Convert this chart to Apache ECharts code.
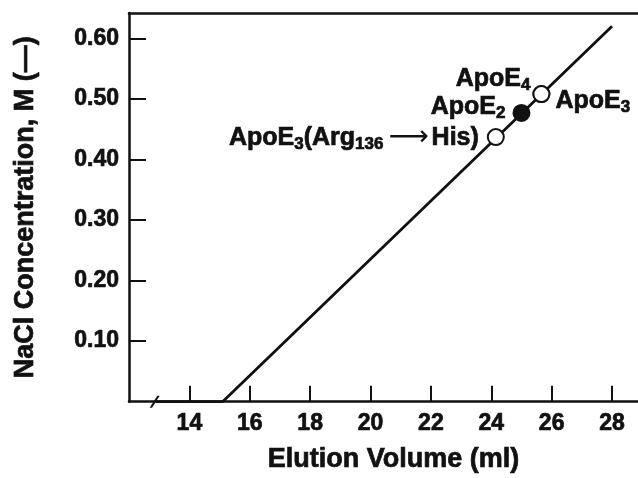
<!DOCTYPE html>
<html>
<head>
<meta charset="utf-8">
<script src="https://cdn.jsdelivr.net/npm/echarts@6/dist/echarts.min.js"></script>
<style>
  html, body { margin: 0; padding: 0; background: #fff; }
  #chart { width: 638px; height: 478px; }
</style>
</head>
<body>
<div id="chart"></div>
<script>
// gradient line (elution volume vs NaCl)
const gradientX = [12.9, 15.1, 28.0];
const gradientY = [0, 0, 0.62];

// sample peaks
const sampleLabels = ['{n|ApoE}{s|3}{n|(Arg}{s|136}{a|⟶}{n|His)}', '{n|ApoE}{s|2}', '{n|ApoE}{s|4}', '{n|ApoE}{s|3}'];
const sampleX = [24.15, 25.0, 25.66, 25.66];
const sampleY = [0.437, 0.477, 0.508, 0.508];
const sampleFilled = [false, true, false, false];

// axis break mark
const breakX = [12.85];

const xTicks = [14, 16, 18, 20, 22, 24, 26, 28];
const yTicks = [0.1, 0.2, 0.3, 0.4, 0.5, 0.6];

const FONT = '"Liberation Sans", Arial, sans-serif';
const INK = '#111';
// scanned print looks heavier than a plain bold face
const heavy = { textBorderColor: INK, textBorderWidth: 0.7 };

const labelPlace = [
  { position: 'left', distance: 8, offset: [0, 1] },
  { position: 'left', distance: 7, offset: [0, -6] },
  { position: 'left', distance: 4, offset: [2, -15] },
  { position: 'right', distance: 5, offset: [0, 7] }
];

const rich = {
  n: Object.assign({ fontFamily: FONT, fontWeight: 'bold', fontSize: 25, color: INK }, heavy),
  s: Object.assign({ fontFamily: FONT, fontWeight: 'bold', fontSize: 17, color: INK, padding: [13, 0, 0, 0] }, heavy),
  a: { fontFamily: '"DejaVu Sans"', fontSize: 28, color: INK, padding: [0, 3, 0, 5] }
};

const chart = echarts.init(document.getElementById('chart'));

chart.setOption({
  animation: false,
  grid: { left: 129, right: 0, top: 13, bottom: 76, containLabel: false },
  xAxis: [
    {
      type: 'value',
      min: 12,
      max: 28.86,
      interval: 2,
      name: 'Elution Volume (ml)',
      nameLocation: 'middle',
      nameGap: 44,
      nameTextStyle: Object.assign({ fontFamily: FONT, fontWeight: 'bold', fontSize: 27, color: INK, padding: [0, 0, 0, 20] }, heavy),
      axisLine: { lineStyle: { color: INK, width: 2.5 } },
      axisTick: { inside: true, length: 16, customValues: xTicks, lineStyle: { color: INK, width: 2 } },
      axisLabel: Object.assign({
        margin: 11,
        customValues: xTicks,
        fontFamily: FONT, fontWeight: 'bold', fontSize: 23, color: INK
      }, heavy),
      splitLine: { show: false }
    },
    {
      type: 'value',
      position: 'top',
      min: 12,
      max: 28.86,
      axisLine: { lineStyle: { color: INK, width: 2.5 } },
      axisTick: { show: false },
      axisLabel: { show: false },
      splitLine: { show: false }
    }
  ],
  yAxis: {
    type: 'value',
    min: 0,
    max: 0.642,
    interval: 0.1,
    name: 'NaCl Concentration, M (—)',
    nameLocation: 'middle',
    nameGap: 90,
    nameTextStyle: Object.assign({ fontFamily: FONT, fontWeight: 'bold', fontSize: 27, color: INK }, heavy),
    axisLine: { lineStyle: { color: INK, width: 2.5 } },
    axisTick: { inside: true, length: 17, customValues: yTicks, lineStyle: { color: INK, width: 2 } },
    axisLabel: Object.assign({
      margin: 10,
      customValues: yTicks,
      fontFamily: FONT, fontWeight: 'bold', fontSize: 23, color: INK,
      formatter: v => v.toFixed(2)
    }, heavy),
    splitLine: { show: false }
  },
  series: [
    {
      type: 'line',
      data: gradientX.map((x, i) => [x, gradientY[i]]),
      showSymbol: false,
      lineStyle: { color: INK, width: 2.8 },
      z: 2
    },
    {
      type: 'scatter',
      data: breakX.map(x => [x, 0]),
      symbol: 'path://M0,12 L8,0 L10.5,0 L2.5,12 Z',
      symbolSize: [10, 12],
      itemStyle: { color: INK, opacity: 1 },
      z: 3
    },
    {
      type: 'scatter',
      data: sampleX.map((x, i) => ({
        value: [x, sampleY[i]],
        itemStyle: { color: sampleFilled[i] ? INK : '#fff' },
        label: Object.assign({ show: true, formatter: sampleLabels[i], rich: rich }, labelPlace[i])
      })),
      symbol: 'circle',
      symbolSize: 16,
      itemStyle: { borderColor: INK, borderWidth: 2, opacity: 1 },
      z: 4
    }
  ]
});
</script>
</body>
</html>
